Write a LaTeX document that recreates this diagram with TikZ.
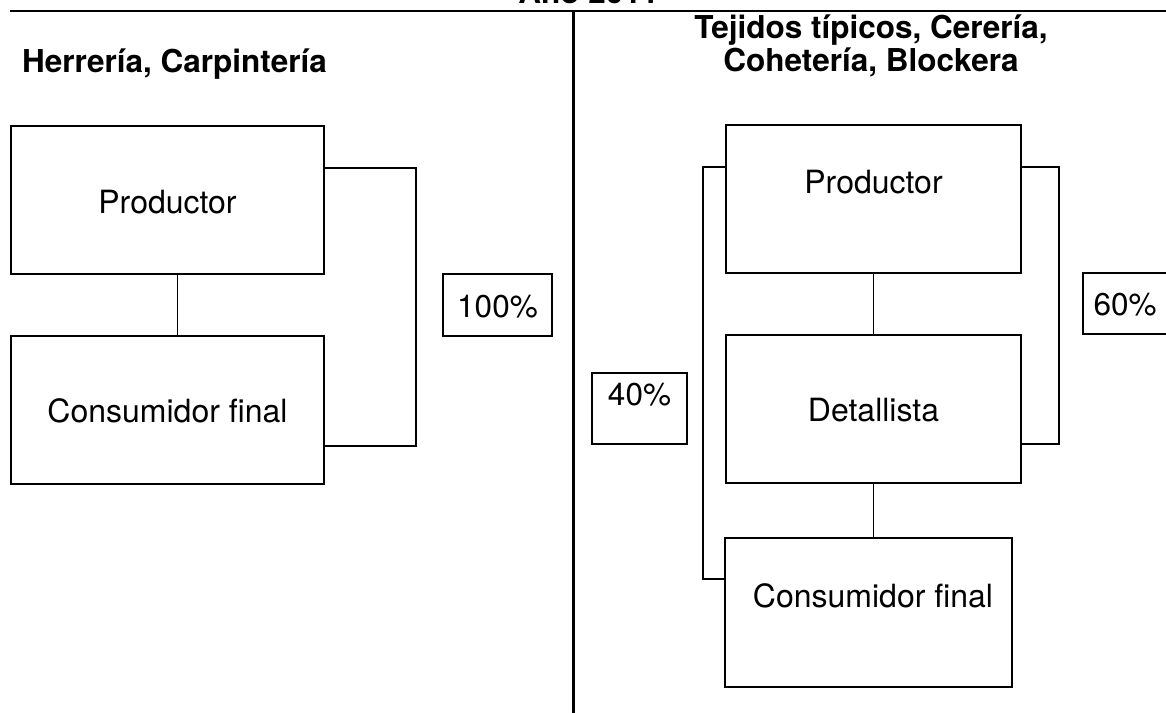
\documentclass[tikz,border=0pt]{standalone}
\usepackage{fontspec}
\setmainfont{TeX Gyre Heros}
\usetikzlibrary{calc}
\begin{document}
\begin{tikzpicture}[x=1pt,y=-1pt,
  box/.style={draw,line width=1.6pt,inner sep=0pt,outer sep=0pt,anchor=north west},
  lbl/.style={font=\fontsize{32}{38}\selectfont,inner sep=0pt,anchor=base},
  ttl/.style={font=\fontsize{31.5}{37}\selectfont\bfseries,inner sep=0pt,anchor=base},
  pct/.style={font=\fontsize{31.5}{37}\selectfont,inner sep=0pt,anchor=base},
  link/.style={line width=1.4pt},
  rule/.style={line width=2.2pt}]
\useasboundingbox (0,0) rectangle (1166,712);
\clip (0,0) rectangle (1166,712);

% frame lines
\coordinate (tl) at (10,11);
\coordinate (tr) at (1170,11);
\coordinate (dt) at (573,11);
\coordinate (db) at (573,715);
\draw[rule] (tl) -- (tr);
\draw[line width=3pt] (dt) -- (db);

% titles
\node[ttl] (year) at (588.5,3.5) {Año 2011};
\node[ttl,anchor=base west] (ltitle) at (22,72) {Herrería, Carpintería};
\node[ttl] (rtitleA) at (871,38) {Tejidos típicos, Cerería,};
\node[ttl] (rtitleB) at (871,71) {Cohetería, Blockera};

% left diagram
\node[box,minimum width=313pt,minimum height=148pt] (lprod) at (11,126) {};
\node[box,minimum width=313pt,minimum height=148pt] (lcons) at (11,336) {};
\node[lbl] (lprodt) at (167.5,213) {Productor};
\node[lbl] (lconst) at (167.5,422) {Consumidor final};
\draw[link] ($(lprod.south)+(10,0)$) -- ($(lcons.north)+(10,0)$);
\draw[link] ($(lprod.north east)+(0,42)$) -- ($(lprod.north east)+(92,42)$)
   |- ($(lcons.south east)+(0,-38)$);
\node[box,minimum width=109pt,minimum height=62pt] (p100) at (443,274) {};
\node[pct] (p100t) at (497.5,317) {100\%};

% right diagram
\node[box,minimum width=295pt,minimum height=148pt] (rprod) at (726,125) {};
\node[box,minimum width=295pt,minimum height=148pt] (rdet) at (726,335) {};
\node[box,minimum width=287pt,minimum height=149pt] (rcons) at (725,538) {};
\node[lbl] (rprodt) at (873.5,193) {Productor};
\node[lbl] (rdett) at (873.5,421) {Detallista};
\node[lbl] (rconst) at (873,607) {Consumidor final};
\draw[link] (rprod.south) -- (rdet.north);
\draw[link] (rdet.south) -- (rdet.south |- rcons.north);
\draw[link] ($(rprod.north east)+(0,42)$) -- ($(rprod.north east)+(38,42)$)
   |- ($(rdet.south east)+(0,-39)$);
\draw[link] ($(rprod.north west)+(0,42)$) -- ($(rprod.north west)+(-23,42)$)
   |- ($(rcons.north west)+(0,41)$);
\node[box,minimum width=95pt,minimum height=71pt] (p40) at (592,373) {};
\node[pct] (p40t) at (639.5,405) {40\%};
\node[box,minimum width=100pt,minimum height=61pt] (p60) at (1083,273) {};
\node[pct] (p60t) at (1125,315) {60\%};
\end{tikzpicture}
\end{document}
